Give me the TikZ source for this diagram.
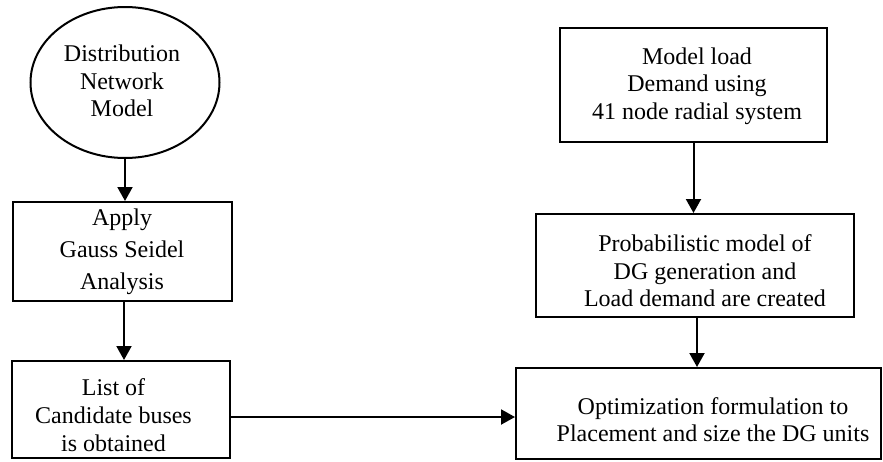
\documentclass[tikz,border=0pt]{standalone}
\usepackage{fontspec}
\setmainfont{Liberation Serif}
\usetikzlibrary{arrows.meta,shapes.geometric,calc}
\begin{document}
\begin{tikzpicture}[x=1pt,y=-1pt,
  box/.style={draw,line width=2pt,rectangle,inner sep=0pt},
  oval/.style={draw,line width=2pt,ellipse,inner sep=0pt},
  lbl/.style={align=center,inner sep=0pt,font=\fontsize{24}{27.5}\selectfont},
  arr/.style={line width=2pt,-{Triangle[length=14pt,width=15pt]}}]
\useasboundingbox (0,0) rectangle (883,461);

% shapes of the flow chart
\node[oval,minimum width=189pt,minimum height=151pt] (dnm) at (125,82.5) {};
\node[box,minimum width=219pt,minimum height=99pt] (apply) at (122.5,251.5) {};
\node[box,minimum width=218pt,minimum height=97pt] (list) at (121,409.5) {};
\node[box,minimum width=267pt,minimum height=114pt] (load) at (693.5,85) {};
\node[box,minimum width=318pt,minimum height=103pt] (prob) at (695,265.5) {};
\node[box,minimum width=365pt,minimum height=91pt] (opt) at (698.5,413.5) {};

% texts inside the shapes
\node[lbl] (tdnm) at (122,81) {Distribution\\Network\\Model};
\node[lbl,font=\fontsize{24}{32}\selectfont] (tapply) at (122,252) {Apply\\Gauss Seidel\\Analysis};
\node[lbl,font=\fontsize{24}{28}\selectfont] (tlist) at (113.5,415) {List of\\Candidate buses\\is obtained};
\node[lbl] (tload) at (697,86) {Model load\\Demand using\\41 node radial system};
\node[lbl] (tprob) at (705,271) {Probabilistic model of\\DG generation and\\Load demand are created};
\node[lbl,font=\fontsize{24}{27}\selectfont] (topt) at (713,420) {Optimization formulation to\\Placement and size the DG units};

% connectors
\draw[arr] (dnm.south) -- (dnm.south |- apply.north);
\draw[arr] ([xshift=1.5pt]apply.south) -- ([xshift=1.5pt]apply.south |- list.north);
\draw[arr] ([yshift=-7.5pt]list.east) -- ([yshift=-7.5pt]list.east -| opt.west);
\draw[arr] (load.south) -- (load.south |- prob.north);
\draw[arr] ([xshift=2pt]prob.south) -- ([xshift=2pt]prob.south |- opt.north);
\end{tikzpicture}
\end{document}
